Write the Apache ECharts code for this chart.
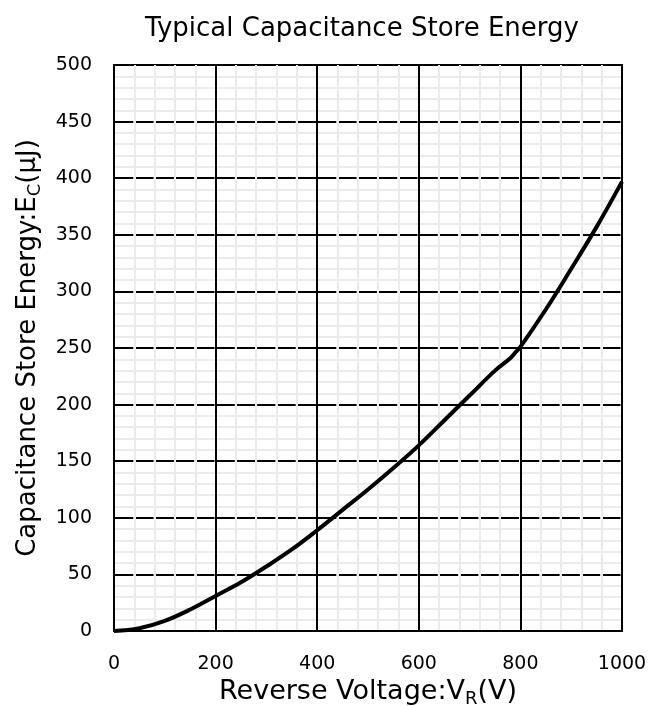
<!DOCTYPE html>
<html>
<head>
<meta charset="utf-8">
<script src="https://cdn.jsdelivr.net/npm/echarts@6/dist/echarts.min.js"></script>
<style>html,body{margin:0;padding:0;background:#fff;}#c{width:661px;height:706px;}</style>
</head>
<body>
<div id="c"></div>
<script>
const voltage = [0, 50, 100, 150, 200, 250, 300, 350, 400, 450, 500, 550, 600, 650, 700, 750, 780, 790, 800, 850, 900, 950, 1000];
const energy  = [0, 2.5, 9, 19, 31, 43, 57, 72, 89, 107, 125, 144, 164, 186, 208, 230, 241, 246, 251, 284, 320, 357, 397];
const xTicks = [0, 200, 400, 600, 800, 1000];
const yTicks = [0, 50, 100, 150, 200, 250, 300, 350, 400, 450, 500];
const titleText = 'Typical Capacitance Store Energy';

const chart = echarts.init(document.getElementById('c'), null, {renderer: 'canvas'});
const font = 'DejaVu Sans';
chart.setOption({
  animation: false,
  backgroundColor: '#fff',
  title: {
    text: titleText, left: 357, top: 11, textAlign: 'center',
    textStyle: {fontFamily: font, fontSize: 26, fontWeight: 'normal', color: '#000'}
  },
  grid: {left: 114, top: 65, right: 39, bottom: 75, show: true, containLabel: false, outerBoundsMode: 'none',
    borderColor: '#000', borderWidth: 2, backgroundColor: 'transparent'},
  xAxis: {
    type: 'value', min: xTicks[0], max: xTicks[xTicks.length - 1], interval: 200,
    name: 'Reverse Voltage:V{sub|R}(V)', nameLocation: 'middle', nameGap: 33,
    nameTextStyle: {fontFamily: font, fontSize: 27, color: '#000',
      rich: {sub: {fontFamily: font, fontSize: 18, color: '#000', padding: [14, 0, 0, 0]}}},
    axisLine: {show: true, lineStyle: {color: '#000', width: 2}},
    axisTick: {show: false},
    axisLabel: {fontFamily: font, fontSize: 19, color: '#000', margin: 24, formatter: v => String(v)},
    splitLine: {show: true, lineStyle: {color: '#000', width: 2}},
    minorTick: {show: false, splitNumber: 5},
    minorSplitLine: {show: true, lineStyle: {color: '#ebebeb', width: 2}}
  },
  yAxis: {
    type: 'value', min: yTicks[0], max: yTicks[yTicks.length - 1], interval: 50,
    name: 'Capacitance Store Energy:E{sub|C}(μJ)', nameLocation: 'middle', nameGap: 70,
    nameTextStyle: {fontFamily: font, fontSize: 26, color: '#000',
      rich: {sub: {fontFamily: font, fontSize: 18, color: '#000', padding: [14, 0, 0, 0]}}},
    axisLine: {show: true, lineStyle: {color: '#000', width: 2}},
    axisTick: {show: false},
    axisLabel: {fontFamily: font, fontSize: 19, color: '#000', margin: 22, formatter: v => String(v)},
    splitLine: {show: true, lineStyle: {color: '#000', width: 2, type: [18.3, 2], dashOffset: -1}},
    minorTick: {show: false, splitNumber: 5},
    minorSplitLine: {show: true, lineStyle: {color: '#ebebeb', width: 2}}
  },
  series: [{
    type: 'line',
    data: voltage.map((v, i) => [v, energy[i]]),
    showSymbol: false,
    smooth: 0.4,
    lineStyle: {color: '#000', width: 4},
    z: 5
  }]
});
</script>
</body>
</html>
